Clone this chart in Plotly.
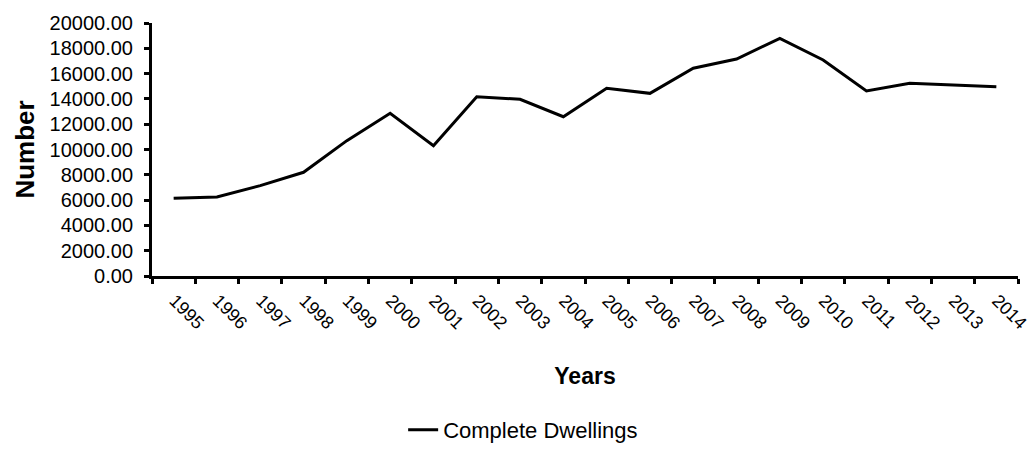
import plotly.graph_objects as go

# Completed dwellings per year
years = ["1995", "1996", "1997", "1998", "1999", "2000", "2001", "2002", "2003", "2004",
         "2005", "2006", "2007", "2008", "2009", "2010", "2011", "2012", "2013", "2014"]
complete_dwellings = [6140, 6245, 7140, 8200, 10700, 12860, 10300, 14170, 13970, 12590,
                      14840, 14440, 16420, 17150, 18790, 17080, 14630, 15230, 15100, 14970]
y_ticks = [0, 2000, 4000, 6000, 8000, 10000, 12000, 14000, 16000, 18000, 20000]

FONT = "Liberation Sans, Arial, sans-serif"

fig = go.Figure()
fig.add_trace(go.Scatter(
    x=years, y=complete_dwellings, mode="lines",
    name="Complete Dwellings",
    line=dict(color="black", width=3),
))

fig.update_layout(
    width=1032, height=451,
    margin=dict(l=152, r=14, t=23, b=175, autoexpand=False),
    paper_bgcolor="white", plot_bgcolor="white",
    font=dict(family=FONT, color="black"),
    showlegend=True,
    legend=dict(
        orientation="h", xanchor="left", x=0.290, yanchor="top", y=-0.525,
        font=dict(size=22, family=FONT, color="black"),
        bgcolor="rgba(0,0,0,0)",
    ),
)

fig.update_xaxes(
    type="category", range=[-0.5, 19.5], automargin=False,
    showline=True, linecolor="black", linewidth=3,
    ticks="outside", tickson="boundaries", ticklen=5, tickwidth=3, tickcolor="black",
    tickangle=45, tickfont=dict(size=18, family=FONT),
    ticklabelshift=1, ticklabelstandoff=4,
    showgrid=False, zeroline=False,
    title=dict(text="<b>Years</b>", font=dict(size=23, family=FONT), standoff=36),
)
fig.update_yaxes(
    range=[0, 20000], tickvals=y_ticks, tickformat=".2f", automargin=False,
    showline=True, linecolor="black", linewidth=3,
    ticks="outside", ticklen=5, tickwidth=3, tickcolor="black",
    ticklabelstandoff=7,
    tickfont=dict(size=20, family=FONT),
    showgrid=False, zeroline=False,
    title=dict(text="<b>Number</b>", font=dict(size=26, family=FONT), standoff=8),
)

fig.write_html("out.html")
